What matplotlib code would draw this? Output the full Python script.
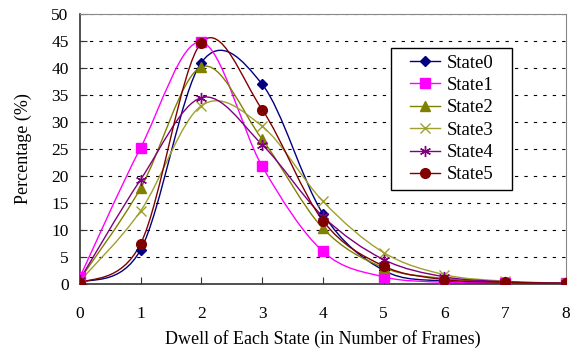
import matplotlib
matplotlib.use("Agg")
import matplotlib.pyplot as plt
from matplotlib.path import Path
import matplotlib.patches as patches
import numpy as np

plt.rcParams['font.family'] = ['Liberation Serif', 'DejaVu Serif']

frames = [0, 1, 2, 3, 4, 5, 6, 7, 8]
state0 = [0.2, 6.3, 41.0, 37.0, 13.0, 2.5, 0.5, 0.2, 0.1]
state1 = [1.2, 25.2, 44.8, 21.8, 6.0, 1.3, 0.3, 0.2, 0.1]
state2 = [0.8, 17.7, 40.2, 26.8, 10.3, 3.0, 1.0, 0.3, 0.1]
state3 = [0.5, 13.5, 33.0, 29.2, 15.3, 5.8, 1.7, 0.5, 0.1]
state4 = [0.8, 19.3, 34.5, 25.8, 12.5, 4.5, 1.3, 0.4, 0.1]
state5 = [0.1, 7.4, 44.7, 32.3, 11.7, 3.3, 0.8, 0.3, 0.1]

names = ["State0", "State1", "State2", "State3", "State4", "State5"]
series = [state0, state1, state2, state3, state4, state5]
colors = ["#000080", "#FF00FF", "#808000", "#A0A030", "#800080", "#800000"]
markers = ["D", "s", "^", "x", (6, 2, 0), "o"]
msizes = [5, 7, 7, 7, 8, 7]


def smooth_path(x, y):
    # excel-like smoothed line: bezier with catmull-rom control points
    x = np.asarray(x, float)
    y = np.asarray(y, float)
    verts = [(x[0], y[0])]
    codes = [Path.MOVETO]
    n = len(x)
    for i in range(n - 1):
        p0 = np.array([x[max(i - 1, 0)], y[max(i - 1, 0)]])
        p1 = np.array([x[i], y[i]])
        p2 = np.array([x[i + 1], y[i + 1]])
        p3 = np.array([x[min(i + 2, n - 1)], y[min(i + 2, n - 1)]])
        c1 = p1 + (p2 - p0) / 6.0
        c2 = p2 - (p3 - p1) / 6.0
        verts += [tuple(c1), tuple(c2), tuple(p2)]
        codes += [Path.CURVE4, Path.CURVE4, Path.CURVE4]
    return Path(verts, codes)


fig = plt.figure(figsize=(5.74, 3.5), dpi=100)
ax = fig.add_axes([0.139, 0.189, 0.847, 0.771])

for ys, nm, c, m, ms in zip(series, names, colors, markers, msizes):
    ax.add_patch(patches.PathPatch(smooth_path(frames, ys), fill=False,
                                   edgecolor=c, lw=1.0, zorder=2))
    ax.plot(frames, ys, linestyle="none", marker=m, color=c, markersize=ms,
            markeredgecolor=c, zorder=3)
    ax.plot([], [], color=c, marker=m, markersize=ms, lw=1.0, label=nm)

ax.set_xlim(0, 8)
ax.set_ylim(0, 50)
ax.set_xticks(range(0, 9))
ax.set_yticks(range(0, 51, 5))
ax.yaxis.grid(True, linestyle=(0, (3, 5.5)), color="black", lw=0.8)
ax.tick_params(direction="in", length=5, labelsize=12.5, color="#333333")
ax.tick_params(axis="x", pad=16)
ax.tick_params(axis="y", pad=8)
for s in ["top", "right"]:
    ax.spines[s].set_color("#888888")
for s in ["left", "bottom"]:
    ax.spines[s].set_color("#333333")
    ax.spines[s].set_linewidth(1.2)

ax.set_xlabel("Dwell of Each State (in Number of Frames)", fontsize=13, labelpad=6)
ax.set_ylabel("Percentage (%)", fontsize=13, labelpad=14)

leg = ax.legend(loc="center", bbox_to_anchor=(0.765, 0.611), fontsize=13.5,
                frameon=False, handlelength=1.6, borderpad=0.3,
                labelspacing=0.28, handletextpad=0.35)
leg.set_zorder(6)

# legend box drawn by hand, wider than the entries like the original
fig.canvas.draw()
bb = leg.get_window_extent().transformed(ax.transAxes.inverted())
padx = 13 / 486.0
pady = 1 / 271.0
frame_box = patches.Rectangle((bb.x0 - padx, bb.y0 - pady),
                              bb.width + 2 * padx, bb.height + 2 * pady,
                              transform=ax.transAxes, facecolor="white",
                              edgecolor="black", lw=1.0, zorder=5)
ax.add_patch(frame_box)

fig.savefig("out.png", dpi=100)
